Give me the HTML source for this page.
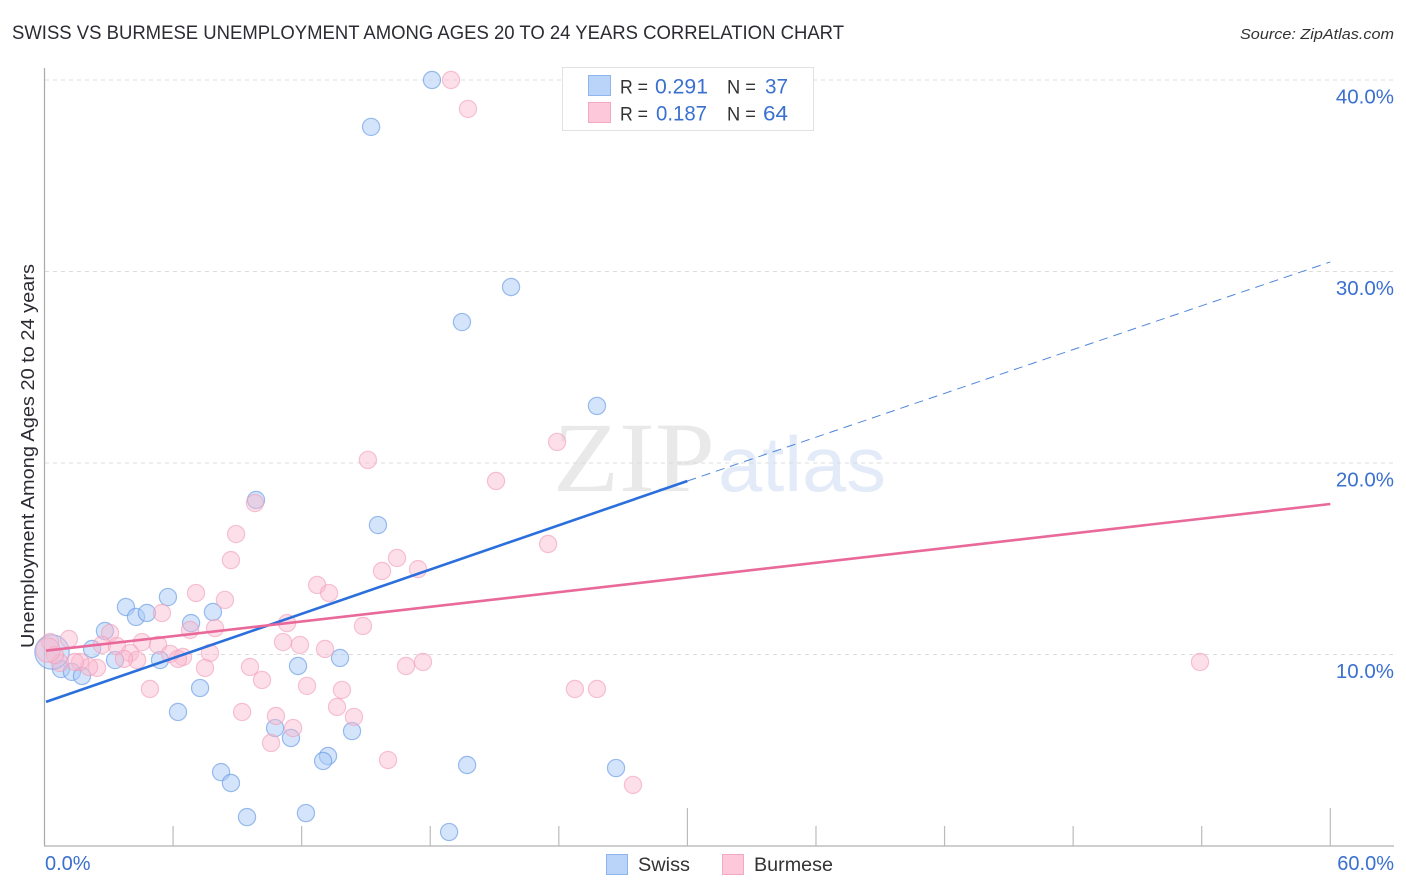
<!DOCTYPE html>
<html>
<head>
<meta charset="utf-8">
<title>Swiss vs Burmese Unemployment Correlation Chart</title>
<style>
html,body{margin:0;padding:0;background:#fff;width:1406px;height:892px;overflow:hidden}
svg{display:block;font-family:"Liberation Sans",sans-serif}
</style>
</head>
<body>
<svg id="chart" width="1406" height="892" viewBox="0 0 1406 892" xmlns="http://www.w3.org/2000/svg">
  <text x="12" y="39" font-size="19" fill="#2b2b33" textLength="832" lengthAdjust="spacingAndGlyphs">SWISS VS BURMESE UNEMPLOYMENT AMONG AGES 20 TO 24 YEARS CORRELATION CHART</text>
  <text x="1394" y="39" font-size="15" font-style="italic" fill="#333" text-anchor="end" textLength="154" lengthAdjust="spacingAndGlyphs">Source: ZipAtlas.com</text>

  <g id="watermark">
    <text x="553" y="491" font-family="'Liberation Serif',serif" font-size="100" fill="#e9e9e9" textLength="162" lengthAdjust="spacingAndGlyphs">ZIP</text>
    <text x="718" y="491" font-size="78" fill="#e3ebf9" textLength="168" lengthAdjust="spacingAndGlyphs">atlas</text>
  </g>

  <g id="grid"></g>
  <g id="axes"></g>
  <g id="points"></g>
  <g id="trends"></g>
  <g id="labels"></g>

  <text transform="translate(34,456) rotate(-90)" font-size="18.5" fill="#2b2b33" text-anchor="middle" textLength="384" lengthAdjust="spacingAndGlyphs">Unemployment Among Ages 20 to 24 years</text>

  <g>
    <rect x="562.5" y="67.5" width="251" height="63" fill="#fff" stroke="#e2e2e2"/>
    <rect x="588.5" y="75.5" width="22" height="20" fill="#b9d4f8" stroke="#8fb6ec"/>
    <rect x="588.5" y="102.5" width="22" height="20" fill="#fdc8d9" stroke="#f3a9c0"/>
    <text x="620" y="93.500" font-size="19" fill="#333" textLength="28" lengthAdjust="spacingAndGlyphs">R =</text>
    <text x="655" y="93.500" font-size="21" fill="#3a70cf" textLength="53" lengthAdjust="spacingAndGlyphs">0.291</text>
    <text x="727" y="93.500" font-size="19" fill="#333" textLength="29" lengthAdjust="spacingAndGlyphs">N =</text>
    <text x="765" y="93.500" font-size="21" fill="#3a70cf" textLength="23" lengthAdjust="spacingAndGlyphs">37</text>
    <text x="620" y="120.500" font-size="19" fill="#333" textLength="28" lengthAdjust="spacingAndGlyphs">R =</text>
    <text x="656" y="120.500" font-size="21" fill="#3a70cf" textLength="51" lengthAdjust="spacingAndGlyphs">0.187</text>
    <text x="727" y="120.500" font-size="19" fill="#333" textLength="29" lengthAdjust="spacingAndGlyphs">N =</text>
    <text x="763" y="120.500" font-size="21" fill="#3a70cf" textLength="25" lengthAdjust="spacingAndGlyphs">64</text>
  </g>

  <g>
    <rect x="606.500" y="854.500" width="21" height="20" fill="#b9d4f8" stroke="#8fb6ec"/>
    <text x="638" y="871" font-size="19.500" fill="#333" textLength="52" lengthAdjust="spacingAndGlyphs">Swiss</text>
    <rect x="722.500" y="854.500" width="21" height="20" fill="#fdc8d9" stroke="#f3a9c0"/>
    <text x="754" y="871" font-size="19.500" fill="#333" textLength="79" lengthAdjust="spacingAndGlyphs">Burmese</text>
  </g>
</svg>
<script>
const swissX = [18.08,15.24,21.77,19.48,25.78,9.87,15.56,3.80,4.27,4.78,5.76,7.86,6.84,2.82,2.22,3.29,5.39,11.83,13.79,7.26,6.23,10.76,11.50,14.35,13.23,13.00,8.24,8.70,19.72,26.67,9.45,12.20,18.88,0.77,1.28,1.75,0.35];
const swissY = [40.00,37.55,29.19,27.36,22.98,18.07,16.76,12.48,11.96,12.17,13.00,12.22,11.64,11.23,10.29,9.71,9.71,9.40,9.82,8.25,7.00,6.16,5.64,6.00,4.70,4.44,3.86,3.29,4.23,4.07,1.51,1.72,0.73,9.24,9.09,8.88,10.13];
const swissWeight = [1,1,1,1,1,1,1,1,1,1,1,1,1,1,1,1,1,1,1,1,1,1,1,1,1,1,1,1,1,1,1,1,1,1,1,1,4];

const burmeseX = [18.97,19.76,23.92,15.09,21.07,23.50,9.82,8.94,8.70,15.75,16.45,17.43,7.07,8.42,5.48,11.32,12.72,13.28,14.86,6.79,7.96,3.06,1.14,0.26,2.68,3.38,4.55,5.30,11.13,11.92,13.09,3.99,5.86,6.46,6.23,7.72,4.32,3.71,7.49,9.59,10.15,12.25,13.88,13.65,14.44,9.22,10.80,11.60,10.57,4.92,16.03,2.45,2.08,1.66,1.42,0.72,0.49,16.87,17.66,24.75,25.78,27.46,53.92,0.16];
const burmeseY = [40.00,38.49,21.10,20.16,19.06,15.77,17.91,16.29,14.93,14.36,15.04,14.46,13.21,12.85,12.17,11.64,13.63,13.21,11.49,11.28,11.38,11.12,10.81,10.65,10.50,10.44,10.65,10.50,10.65,10.50,10.29,10.08,10.03,9.87,9.77,10.08,9.71,9.77,9.30,9.35,8.67,8.36,8.15,7.26,6.74,7.00,6.79,6.16,5.38,8.20,4.49,9.30,9.35,9.61,9.61,9.56,9.97,9.40,9.61,8.20,8.20,3.19,9.61,10.23];
const burmeseWeight = [1,1,1,1,1,1,1,1,1,1,1,1,1,1,1,1,1,1,1,1,1,1,1,1,1,1,1,1,1,1,1,1,1,1,1,1,1,1,1,1,1,1,1,1,1,1,1,1,1,1,1,1,1,1,1,1,1,1,1,1,1,1,1,2];

const swissTrendX = [0,30,60];
const swissTrendY = [7.5,19.06,30.5];
const burmeseTrendX = [0,60];
const burmeseTrendY = [10.2,17.86];

const yTicks = [10,20,30,40];
const yTickLabels = ["10.0%","20.0%","30.0%","40.0%"];
const xTicks = [6,12,18,24,30,36,42,48,54,60];
const xMajorTicks = [30,60];
const xEndLabels = ["0.0%","60.0%"];

const SVGNS = "http://www.w3.org/2000/svg";
function sx(v){ return 44.5 + v * 21.43; }
function sy(v){ return 846 - v * 19.15; }
function make(tag, attrs, parent){
  const el = document.createElementNS(SVGNS, tag);
  for (const k in attrs) el.setAttribute(k, attrs[k]);
  parent.appendChild(el);
  return el;
}
const grid = document.getElementById("grid");
const axes = document.getElementById("axes");
const points = document.getElementById("points");
const trends = document.getElementById("trends");
const labels = document.getElementById("labels");

yTicks.forEach(function(t, i){
  const line = make("line", {x1:45, x2:1394, y1:sy(t), y2:sy(t), stroke:"#dcdcdc", "stroke-width":1, "stroke-dasharray":"4 4"}, grid);
  
  
  const label = make("text", {x:1394, y:sy(t)+23.5, "font-size":20.5, fill:"#3a70cf", "text-anchor":"end"}, labels);
  label.textContent = yTickLabels[i];
  
  
});

const yAxis = make("line", {x1:44.5, x2:44.5, y1:68, y2:846, stroke:"#aaa", "stroke-width":1.2}, axes);


const xAxis = make("line", {x1:44, x2:1394, y1:846, y2:846, stroke:"#b0b0b0", "stroke-width":1.2}, axes);



xTicks.forEach(function(t){
  const top = xMajorTicks.indexOf(t) >= 0 ? 808 : 826;
  const tick = make("line", {x1:sx(t), x2:sx(t), y1:top, y2:846, stroke:"#bbb", "stroke-width":1.2}, axes);
  
  
});

const xStart = make("text", {x:45, y:870, "font-size":20, fill:"#3a70cf"}, labels);
xStart.textContent = xEndLabels[0];


const xEnd = make("text", {x:1394, y:870, "font-size":20, fill:"#3a70cf", "text-anchor":"end"}, labels);
xEnd.textContent = xEndLabels[1];



swissX.forEach(function(v, i){
  const c = make("circle", {cx:sx(v), cy:sy(swissY[i]), r:8.6*Math.sqrt(swissWeight[i]), fill:"#a9caf5", "fill-opacity":0.5, stroke:"#5f95e2", "stroke-opacity":0.6, "stroke-width":1.2}, points);
  
  
});
burmeseX.forEach(function(v, i){
  const c = make("circle", {cx:sx(v), cy:sy(burmeseY[i]), r:8.6*Math.sqrt(burmeseWeight[i]), fill:"#fbb9ce", "fill-opacity":0.45, stroke:"#f09fb9", "stroke-opacity":0.6, "stroke-width":1.2}, points);
  
  
});

const swissSolid = make("line", {x1:sx(swissTrendX[0])+1.5, y1:sy(swissTrendY[0])-0.5, x2:sx(swissTrendX[1]), y2:sy(swissTrendY[1]), stroke:"#2a6fdb", "stroke-width":2.6}, trends);


const swissDash = make("line", {x1:sx(swissTrendX[1]), y1:sy(swissTrendY[1]), x2:sx(swissTrendX[2]), y2:sy(swissTrendY[2]), stroke:"#4f86dc", "stroke-width":1, "stroke-dasharray":"9 6"}, trends);


const burmeseLine = make("line", {x1:sx(burmeseTrendX[0])+1.5, y1:sy(burmeseTrendY[0]), x2:sx(burmeseTrendX[1]), y2:sy(burmeseTrendY[1]), stroke:"#e9699b", "stroke-width":2.6}, trends);


</script>
</body>
</html>
